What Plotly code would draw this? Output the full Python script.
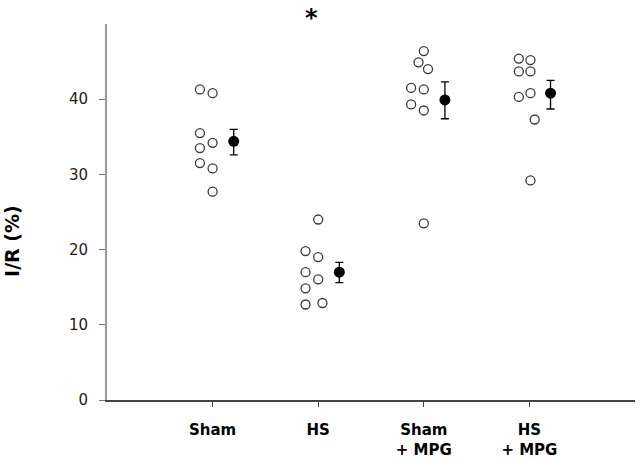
import plotly.graph_objects as go

groups = ["Sham", "HS", "Sham<br>+ MPG", "HS<br>+ MPG"]
group_pos = [1, 2, 3, 4]

sham = [41.3, 40.8, 35.5, 34.2, 33.5, 31.5, 30.8, 27.7]
sham_off = [-0.12, 0.0, -0.12, 0.0, -0.12, -0.12, 0.0, 0.0]
hs = [24.0, 19.8, 19.0, 17.0, 16.05, 14.85, 12.7, 12.9]
hs_off = [0.0, -0.12, 0.0, -0.12, 0.0, -0.12, -0.12, 0.04]
sham_mpg = [46.4, 44.9, 44.0, 41.5, 41.3, 39.3, 38.5, 23.5]
sham_mpg_off = [0.0, -0.05, 0.04, -0.12, 0.0, -0.12, 0.0, 0.0]
hs_mpg = [45.4, 45.2, 43.7, 43.7, 40.3, 40.8, 37.3, 29.2]
hs_mpg_off = [-0.1, 0.01, -0.1, 0.01, -0.1, 0.01, 0.05, 0.01]

means = [34.4, 17.0, 39.9, 40.8]
err_up = [1.6, 1.3, 2.4, 1.7]
err_down = [1.8, 1.4, 2.5, 2.1]
mean_off = 0.2

FONT = "DejaVu Sans"

fig = go.Figure()

for pos, vals, offs in zip(group_pos,
                           [sham, hs, sham_mpg, hs_mpg],
                           [sham_off, hs_off, sham_mpg_off, hs_mpg_off]):
    fig.add_trace(go.Scatter(
        x=[pos + o for o in offs], y=vals, mode="markers",
        marker=dict(symbol="circle-open", size=9, color="#3a3a3a",
                    line=dict(width=1.3, color="#3a3a3a")),
        showlegend=False, cliponaxis=False))

fig.add_trace(go.Scatter(
    x=[p + mean_off for p in group_pos], y=means, mode="markers",
    marker=dict(symbol="circle", size=11, color="black"),
    error_y=dict(type="data", symmetric=False, array=err_up,
                 arrayminus=err_down, color="black", thickness=1.3, width=4),
    showlegend=False, cliponaxis=False))

fig.add_annotation(x=1.94, y=1.016, xref="x", yref="paper", text="<b>*</b>",
                   showarrow=False, font=dict(size=24, color="black", family=FONT),
                   yanchor="middle", xanchor="center")

fig.add_annotation(x=-0.18, y=0.423, xref="paper", yref="paper",
                   text="<b>I/R (%)</b>", textangle=-90, showarrow=False,
                   font=dict(size=19, color="black", family=FONT),
                   xanchor="center", yanchor="middle")

fig.update_layout(
    width=640, height=460,
    margin=dict(l=107, r=5, t=24, b=60),
    plot_bgcolor="white", paper_bgcolor="white",
    font=dict(family=FONT, color="#222"),
    xaxis=dict(range=[0, 5], tickvals=group_pos,
               ticktext=["<b>" + g + "</b>" for g in groups],
               showgrid=False, zeroline=False, showline=True,
               linecolor="#444", linewidth=2, ticks="outside",
               ticklen=5, tickcolor="#444", tickwidth=1,
               ticklabelstandoff=10, automargin=False,
               tickfont=dict(size=15, color="black")),
    yaxis=dict(range=[0, 50], tickvals=[0, 10, 20, 30, 40],
               showgrid=False, zeroline=False, showline=True,
               linecolor="#999", linewidth=2, ticks="outside",
               ticklen=6, tickcolor="#777", tickwidth=1,
               ticklabelstandoff=8, automargin=False,
               tickfont=dict(size=15, color="#222")),
)

fig.write_html("out.html", config={"displayModeBar": False},
               post_script="document.body.style.margin='0';document.body.style.overflow='hidden';")
